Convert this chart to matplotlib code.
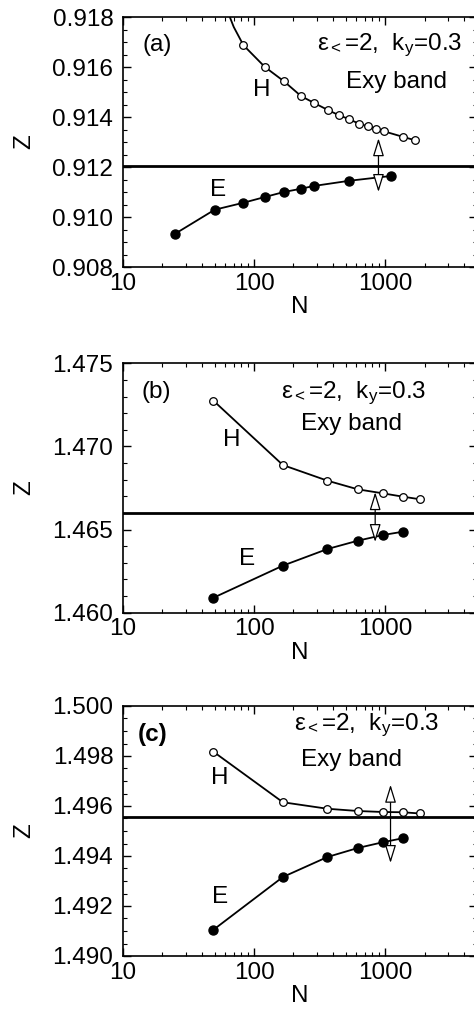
import matplotlib
matplotlib.use('Agg')
import matplotlib.pyplot as plt
from matplotlib.ticker import LogLocator, MultipleLocator, FixedLocator, FixedFormatter, NullFormatter, FormatStrFormatter

plt.rcParams['font.family'] = ['Liberation Sans', 'DejaVu Sans']
plt.rcParams['mathtext.fontset'] = 'custom'
plt.rcParams['mathtext.rm'] = 'Liberation Sans'
plt.rcParams['mathtext.it'] = 'Liberation Sans'
plt.rcParams['mathtext.bf'] = 'Liberation Sans:bold'

# ---------------- data ----------------
# panel (a)
H_a_N = [83, 121, 169, 228, 285, 369, 445, 534, 632, 738, 849, 977, 1381, 1694]
H_a_Z = [0.91687, 0.91600, 0.91543, 0.91484, 0.91457, 0.91427, 0.91407, 0.91391,
         0.91373, 0.91363, 0.91353, 0.91343, 0.91320, 0.91307]
H_a_curve_N = [62, 70]
H_a_curve_Z = [0.9183, 0.9176]
E_a_N = [25, 50, 83, 121, 169, 228, 285, 534, 1105]
E_a_Z = [0.90933, 0.91029, 0.91057, 0.91080, 0.91100, 0.91113, 0.91124, 0.91145, 0.91164]
Zinf_a = 0.91205
arrow_a = (890, 0.91100, 0.91315)

# panel (b)
H_b_N = [49, 166, 363, 619, 960, 1364, 1849]
H_b_Z = [1.47275, 1.46888, 1.46794, 1.46742, 1.46718, 1.46698, 1.46682]
E_b_N = [49, 166, 363, 619, 960, 1364]
E_b_Z = [1.46090, 1.46283, 1.46383, 1.46433, 1.46467, 1.46487]
Zinf_b = 1.46598
arrow_b = (840, 1.46425, 1.46725)

# panel (c)
H_c_N = [49, 166, 363, 619, 960, 1364, 1849]
H_c_Z = [1.49817, 1.49615, 1.49589, 1.49580, 1.49576, 1.49575, 1.49570]
E_c_N = [49, 166, 363, 619, 960, 1364]
E_c_Z = [1.49105, 1.49316, 1.49396, 1.49432, 1.49455, 1.49471]
Zinf_c = 1.49557
arrow_c = (1100, 1.49372, 1.49685)

x_ticks = [10, 100, 1000]
x_ticklabels = ['10', '100', '1000']

W, H = 474, 1011
fig = plt.figure(figsize=(W / 100, H / 100), dpi=100)

FS = 17.5

def make_axes(top_px, bottom_px):
    left = 123 / W
    right = 476.7 / W
    return fig.add_axes([left, 1 - bottom_px / H, right - left, (bottom_px - top_px) / H])

def style(ax, ylim, major, minor):
    ax.set_xscale('log')
    ax.set_xlim(10, 5000)
    ax.set_ylim(*ylim)
    ax.xaxis.set_major_locator(FixedLocator(x_ticks))
    ax.xaxis.set_major_formatter(FixedFormatter(x_ticklabels))
    ax.xaxis.set_minor_locator(LogLocator(base=10, subs=range(2, 10)))
    ax.xaxis.set_minor_formatter(NullFormatter())
    ax.yaxis.set_major_locator(MultipleLocator(major))
    ax.yaxis.set_minor_locator(MultipleLocator(minor))
    ax.yaxis.set_major_formatter(FormatStrFormatter('%.3f'))
    ax.tick_params(which='both', direction='in', top=True, right=True, labelsize=FS)
    ax.tick_params(which='major', length=6, width=1.0)
    ax.tick_params(which='minor', length=3, width=0.8)
    ax.tick_params(axis='y', pad=7)
    ax.tick_params(axis='x', pad=4)
    for s in ax.spines.values():
        s.set_linewidth(1.2)
    ax.set_xlabel('N', fontsize=FS, labelpad=1)
    ax.set_ylabel('Z', fontsize=FS, labelpad=12)

def draw(ax, HN, HZ, EN, EZ, zinf, arrow, curveN=None, curveZ=None):
    if curveN is not None:
        ax.plot(list(curveN) + list(HN[:1]), list(curveZ) + list(HZ[:1]), '-', color='black', lw=1.3)
    ax.plot(HN, HZ, '-o', color='black', lw=1.3, ms=5.5, mfc='white', mec='black', mew=0.9)
    ax.plot(EN, EZ, '-o', color='black', lw=1.3, ms=6.5, mfc='black', mec='black')
    ax.axhline(zinf, color='black', lw=2.0)
    n, zlo, zhi = arrow
    ax.annotate('', xy=(n, zhi), xytext=(n, zlo),
                arrowprops=dict(arrowstyle='<|-|>,head_length=0.55,head_width=0.17',
                                fc='white', ec='black', lw=0.9,
                                shrinkA=0, shrinkB=0, mutation_scale=20))

label_eps = '$ε_{<}$=2,  k$_{y}$=0.3'

# (a)
ax = make_axes(17, 267)
style(ax, (0.908, 0.918), 0.002, 0.0005)
draw(ax, H_a_N, H_a_Z, E_a_N, E_a_Z, Zinf_a, arrow_a, H_a_curve_N, H_a_curve_Z)
ax.text(0.096, 0.888, '(a)', transform=ax.transAxes, fontsize=FS, ha='center', va='center')
ax.text(0.755, 0.885, label_eps, transform=ax.transAxes, fontsize=FS, ha='center', va='center')
ax.text(0.774, 0.74, 'Exy band', transform=ax.transAxes, fontsize=FS, ha='center', va='center')
ax.text(115, 0.91507, 'H', fontsize=FS, ha='center', va='center')
ax.text(53, 0.91107, 'E', fontsize=FS, ha='center', va='center')

# (b)
ax = make_axes(363.3, 612.7)
style(ax, (1.460, 1.475), 0.005, 0.001)
draw(ax, H_b_N, H_b_Z, E_b_N, E_b_Z, Zinf_b, arrow_b)
ax.text(0.095, 0.886, '(b)', transform=ax.transAxes, fontsize=FS, ha='center', va='center')
ax.text(0.651, 0.878, label_eps, transform=ax.transAxes, fontsize=FS, ha='center', va='center')
ax.text(0.645, 0.757, 'Exy band', transform=ax.transAxes, fontsize=FS, ha='center', va='center')
ax.text(68, 1.4704, 'H', fontsize=FS, ha='center', va='center')
ax.text(88, 1.4632, 'E', fontsize=FS, ha='center', va='center')

# (c)
ax = make_axes(706, 956)
style(ax, (1.490, 1.500), 0.002, 0.0005)
draw(ax, H_c_N, H_c_Z, E_c_N, E_c_Z, Zinf_c, arrow_c)
ax.text(0.085, 0.884, '(c)', transform=ax.transAxes, fontsize=FS, ha='center', va='center', fontweight='bold')
ax.text(0.69, 0.921, label_eps, transform=ax.transAxes, fontsize=FS, ha='center', va='center')
ax.text(0.645, 0.784, 'Exy band', transform=ax.transAxes, fontsize=FS, ha='center', va='center')
ax.text(55, 1.49712, 'H', fontsize=FS, ha='center', va='center')
ax.text(55, 1.49236, 'E', fontsize=FS, ha='center', va='center')

fig.savefig('out.png', dpi=100)
